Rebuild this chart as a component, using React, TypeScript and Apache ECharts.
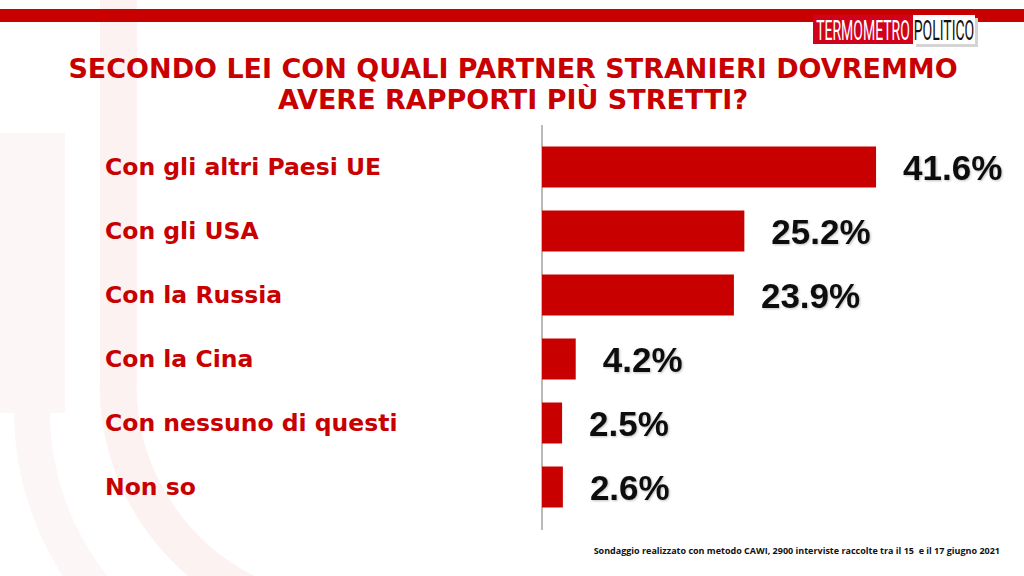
import React, { useEffect, useRef } from "react";
import * as echarts from "echarts";

const categories = [
  "Con gli altri Paesi UE",
  "Con gli USA",
  "Con la Russia",
  "Con la Cina",
  "Con nessuno di questi",
  "Non so",
];
const values = [41.6, 25.2, 23.9, 4.2, 2.5, 2.6];
const titleLines = [
  "SECONDO LEI CON QUALI PARTNER STRANIERI DOVREMMO",
  "AVERE RAPPORTI PIÙ STRETTI?",
];
const footnote =
  "Sondaggio realizzato con metodo CAWI, 2900 interviste raccolte tra il 15  e il 17 giugno 2021";

const RED = "#c80000";

export default function App() {
  const ref = useRef<HTMLDivElement>(null);
  useEffect(() => {
    if (!ref.current) return;
    const chart = echarts.init(ref.current, undefined, { renderer: "svg" });
    chart.setOption({
      animation: false,
      backgroundColor: "#ffffff",
      grid: { left: 542, top: 135, width: 401.5, height: 384, containLabel: false },
      xAxis: {
        type: "value",
        min: 0,
        max: 50,
        show: false,
      },
      yAxis: {
        type: "category",
        data: categories,
        inverse: true,
        axisLine: { show: false },
        axisTick: { show: false },
        axisLabel: {
          align: "left",
          margin: 437,
          color: RED,
          fontFamily: "DejaVu Sans",
          fontWeight: "bold",
          fontSize: 23.5,
        },
      },
      graphic: [
        // faint watermark
        { type: "rect", silent: true, z: -10, shape: { x: 0, y: 133, width: 65, height: 280 }, style: { fill: "#fdf6f6" } },
        { type: "rect", silent: true, z: -10, shape: { x: 100, y: 0, width: 37, height: 385 }, style: { fill: "#fdf2f2" } },
        {
          type: "arc",
          silent: true,
          z: -10,
          shape: { cx: 350, cy: 385, r: 232, startAngle: Math.PI * 0.62, endAngle: Math.PI },
          style: { stroke: "#fdf2f2", lineWidth: 37, fill: "none" },
        },
        {
          type: "arc",
          silent: true,
          z: -10,
          shape: { cx: 320, cy: 410, r: 288, startAngle: Math.PI * 0.65, endAngle: Math.PI },
          style: { stroke: "#fdf6f6", lineWidth: 36, fill: "none" },
        },
        // top band
        { type: "rect", shape: { x: 0, y: 9, width: 1024, height: 13 }, style: { fill: RED } },
        // logo
        { type: "rect", shape: { x: 916, y: 18, width: 62, height: 29 }, style: { fill: "#d4d4d4" } },
        { type: "rect", shape: { x: 813, y: 15, width: 100, height: 29 }, style: { fill: "#d0021b" } },
        { type: "rect", shape: { x: 913, y: 15, width: 62, height: 29 }, style: { fill: "#ffffff" } },
        {
          type: "text",
          x: 863,
          y: 30,
          scaleX: 0.5,
          style: {
            text: "TERMOMETRO",
            fill: "#ffffff",
            font: "28px Roboto",
            textAlign: "center",
            textVerticalAlign: "middle",
          },
        },
        {
          type: "text",
          x: 944,
          y: 30,
          scaleX: 0.5,
          style: {
            text: "POLITICO",
            fill: "#111111",
            font: "28px Roboto",
            textAlign: "center",
            textVerticalAlign: "middle",
          },
        },
        // title
        {
          type: "text",
          x: 513,
          y: 68,
          style: {
            text: titleLines[0],
            fill: RED,
            font: "bold 27px 'DejaVu Sans'",
            textAlign: "center",
            textVerticalAlign: "middle",
          },
        },
        {
          type: "text",
          x: 513,
          y: 99,
          style: {
            text: titleLines[1],
            fill: RED,
            font: "bold 27px 'DejaVu Sans'",
            textAlign: "center",
            textVerticalAlign: "middle",
          },
        },
        // axis line
        { type: "line", shape: { x1: 542, y1: 125, x2: 542, y2: 530 }, style: { stroke: "#777777", lineWidth: 1 } },
        // footnote
        {
          type: "text",
          x: 1000,
          y: 550,
          style: {
            text: footnote,
            fill: "#111111",
            font: "bold 9px 'Open Sans'",
            textAlign: "right",
            textVerticalAlign: "middle",
          },
        },
      ],
      series: [
        {
          type: "bar",
          data: values,
          barWidth: 41,
          itemStyle: { color: RED },
          label: {
            show: true,
            position: "right",
            distance: 27,
            formatter: (p: any) => p.value.toFixed(1) + "%",
            color: "#111111",
            fontFamily: "Liberation Sans",
            fontWeight: "bold",
            fontSize: 35,
            textShadowColor: "rgba(0,0,0,0.25)",
            textShadowBlur: 2,
            textShadowOffsetX: 1,
            textShadowOffsetY: 1,
          },
        },
      ],
    });
    return () => chart.dispose();
  }, []);
  return <div ref={ref} style={{ width: 1024, height: 576, position: "absolute", left: 0, top: 0 }} />;
}
